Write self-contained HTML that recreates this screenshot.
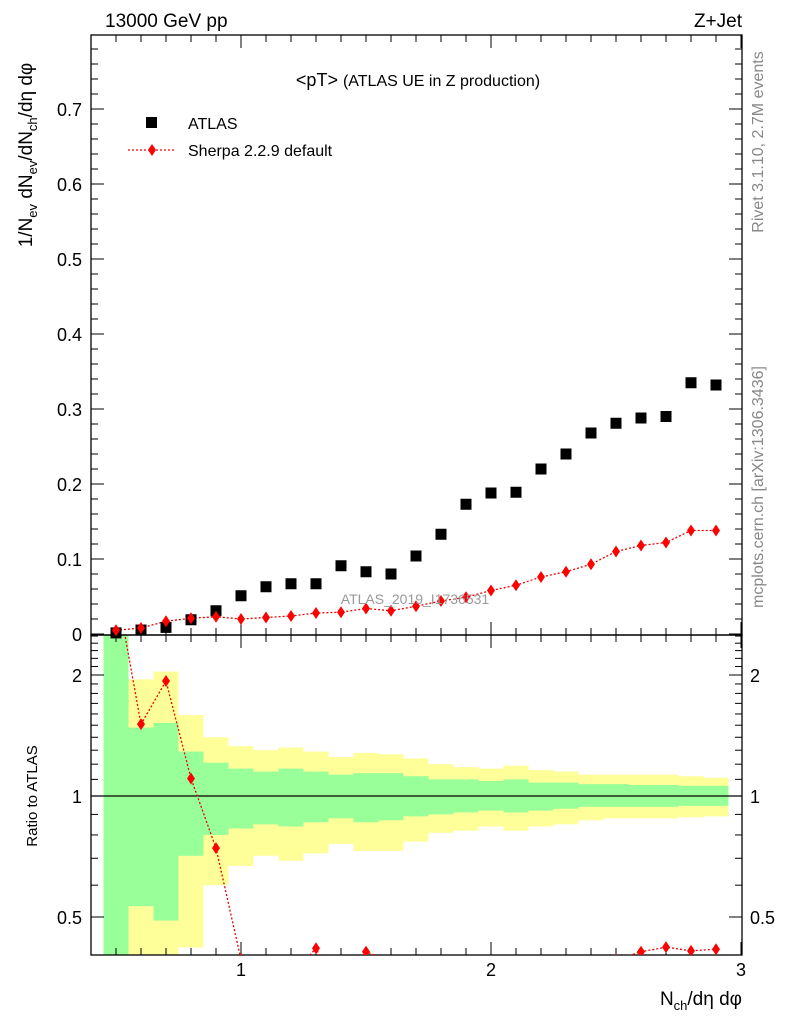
<!DOCTYPE html>
<html><head><meta charset="utf-8"><style>
body{margin:0;background:#fff}
svg{display:block;font-family:"Liberation Sans",sans-serif}
</style></head><body>
<svg id="c" width="786" height="1024" viewBox="0 0 786 1024" xmlns="http://www.w3.org/2000/svg">
<g id="bands"></g>
<g id="axes"></g>
<g id="marks"></g>
<g>
<text x="105" y="27" font-size="19">13000 GeV pp</text>
<text x="742" y="27" font-size="19" text-anchor="end">Z+Jet</text>
<text x="418" y="86" font-size="18" text-anchor="middle">&lt;pT&gt; <tspan font-size="16">(ATLAS UE in Z production)</tspan></text>
<rect x="146" y="117" width="11" height="11" fill="#000"/>
<text x="188" y="129" font-size="16">ATLAS</text>
<line x1="128" y1="150" x2="176" y2="150" stroke="#e00" stroke-width="1.3" stroke-dasharray="2,2"/>
<path d="M152,144 L156,150 L152,156 L148,150 Z" fill="#f00"/>
<text x="188" y="156" font-size="16">Sherpa 2.2.9 default</text>
<text x="415" y="604" font-size="14" fill="#999" text-anchor="middle">ATLAS_2019_I1736531</text>
<text transform="translate(763,142) rotate(-90)" font-size="16" fill="#888" text-anchor="middle">Rivet 3.1.10,  2.7M events</text>
<text transform="translate(763,487) rotate(-90)" font-size="16" fill="#888" text-anchor="middle">mcplots.cern.ch [arXiv:1306.3436]</text>
<text transform="translate(32,155) rotate(-90)" font-size="19" text-anchor="middle">1/N<tspan font-size="13" dy="5">ev</tspan><tspan dy="-5"> dN</tspan><tspan font-size="13" dy="5">ev</tspan><tspan dy="-5">/dN</tspan><tspan font-size="13" dy="5">ch</tspan><tspan dy="-5">/dη dφ</tspan></text>
<text transform="translate(37,796) rotate(-90)" font-size="15" text-anchor="middle">Ratio to ATLAS</text>
<text x="742" y="1005" font-size="19" text-anchor="end">N<tspan font-size="13" dy="5">ch</tspan><tspan dy="-5">/dη dφ</tspan></text>
</g>
</svg>
<script>
const xCenters=[0.5,0.6,0.7,0.8,0.9,1.0,1.1,1.2,1.3,1.4,1.5,1.6,1.7,1.8,1.9,2.0,2.1,2.2,2.3,2.4,2.5,2.6,2.7,2.8,2.9];
const atlasVals=[0.0015,0.0053,0.0088,0.019,0.031,0.051,0.063,0.067,0.067,0.091,0.083,0.080,0.104,0.133,0.173,0.188,0.189,0.220,0.240,0.268,0.281,0.288,0.290,0.335,0.332];
const sherpaVals=[0.005,0.008,0.017,0.021,0.023,0.020,0.022,0.024,0.028,0.029,0.034,0.031,0.037,0.044,0.049,0.058,0.065,0.076,0.083,0.093,0.110,0.118,0.122,0.138,0.138];
const yellowHi=[3,1.95,2.04,1.59,1.40,1.33,1.30,1.32,1.29,1.25,1.28,1.27,1.24,1.20,1.18,1.17,1.19,1.16,1.15,1.13,1.13,1.13,1.13,1.12,1.11];
const greenHi=[3,1.48,1.52,1.29,1.21,1.17,1.15,1.17,1.15,1.13,1.14,1.14,1.12,1.10,1.10,1.09,1.10,1.08,1.08,1.07,1.07,1.065,1.065,1.06,1.06];
const greenLo=[0.3,0.532,0.49,0.71,0.80,0.83,0.85,0.84,0.86,0.88,0.86,0.87,0.89,0.90,0.91,0.92,0.91,0.92,0.93,0.94,0.94,0.94,0.94,0.945,0.945];
const yellowLo=[0.3,0.3,0.3,0.42,0.60,0.67,0.71,0.69,0.72,0.76,0.73,0.73,0.77,0.81,0.82,0.84,0.82,0.84,0.85,0.87,0.88,0.88,0.88,0.885,0.89];
const yTicks=["0","0.1","0.2","0.3","0.4","0.5","0.6","0.7"];
const rTicks=["0.5","1","2"];
const xTicks=["1","2","3"];

const NS="http://www.w3.org/2000/svg";
const L=91,R=742,T=35,M=635,B=955;
const X=v=>L+(v-0.4)*250;
const Y=v=>634-v*750;
const RY=r=>796-121*Math.log2(r);
function mk(tag,attrs,parent){const e=document.createElementNS(NS,tag);for(const k in attrs)e.setAttribute(k,attrs[k]);document.getElementById(parent).appendChild(e);return e;}
const clampR=y=>Math.max(M,Math.min(B,y));

for(let i=0;i<xCenters.length;i++){
  const x0=X(xCenters[i]-0.05),w=25;
  const yb=mk('rect',{x:x0,y:clampR(RY(yellowHi[i])),width:w,height:clampR(RY(yellowLo[i]))-clampR(RY(yellowHi[i])),fill:'#ffff99'},'bands');
  
  
  const gb=mk('rect',{x:x0,y:clampR(RY(greenHi[i])),width:w,height:clampR(RY(greenLo[i]))-clampR(RY(greenHi[i])),fill:'#99ff99'},'bands');
  
  
}
mk('rect',{x:L,y:T,width:R-L,height:M-T,fill:'none',stroke:'#000','stroke-width':1.3},'axes');
mk('rect',{x:L,y:M,width:R-L,height:B-M,fill:'none',stroke:'#000','stroke-width':1.3},'axes');
mk('line',{x1:L,y1:RY(1),x2:R,y2:RY(1),stroke:'#000','stroke-width':1.2},'axes');
for(let v=0;v<=0.8001;v+=0.02){const y=Y(v);if(y<T)continue;const maj=Math.abs(v*10-Math.round(v*10))<1e-6;const len=maj?13:7;
  mk('line',{x1:L,y1:y,x2:L+len,y2:y,stroke:'#000'},'axes');mk('line',{x1:R,y1:y,x2:R-len,y2:y,stroke:'#000'},'axes');}
yTicks.forEach((t,i)=>{const e=mk('text',{x:82,y:Y(+t)+7,'font-size':18,'text-anchor':'end'},'axes');e.textContent=t;
  
  });
for(let r=0.4;r<=2.5001;r+=0.1){const y=RY(r);if(y<M||y>B)continue;const maj=Math.abs(r-0.5)<1e-6||Math.abs(r-1)<1e-6||Math.abs(r-2)<1e-6;const len=maj?13:7;
  mk('line',{x1:L,y1:y,x2:L+len,y2:y,stroke:'#000'},'axes');mk('line',{x1:R,y1:y,x2:R-len,y2:y,stroke:'#000'},'axes');}
rTicks.forEach(t=>{let e=mk('text',{x:82,y:RY(+t)+7,'font-size':18,'text-anchor':'end'},'axes');e.textContent=t;
  
  
  e=mk('text',{x:750,y:RY(+t)+7,'font-size':18},'axes');e.textContent=t;
  
  });
for(let k=5;k<=30;k++){const v=k/10,x=X(v);const maj=k%10==0;const len=maj?13:7;
  [[T,1],[M,-1],[M,1],[B,-1]].forEach(([y0,d])=>mk('line',{x1:x,y1:y0,x2:x,y2:y0+d*len,stroke:'#000'},'axes'));}
xTicks.forEach(t=>{const e=mk('text',{x:X(+t),y:976,'font-size':18,'text-anchor':'middle'},'axes');e.textContent=t;
  
  });

const sp=xCenters.map((x,i)=>X(x)+','+Y(sherpaVals[i])).join(' ');
const sl=mk('polyline',{points:sp,fill:'none',stroke:'#e00','stroke-width':1.3,'stroke-dasharray':'2,2'},'marks');


xCenters.forEach((x,i)=>{
  const a=mk('rect',{x:X(x)-5.5,y:Y(atlasVals[i])-5.5,width:11,height:11,fill:'#000'},'marks');
  
  
  const cx=X(x),cy=Y(sherpaVals[i]);
  const s=mk('path',{d:`M${cx},${cy-6}L${cx+4},${cy}L${cx},${cy+6}L${cx-4},${cy}Z`,fill:'#f00'},'marks');
  
  
});
const cp=mk('clipPath',{id:'rc'},'marks');
const cr=document.createElementNS(NS,'rect');cr.setAttribute('x',L);cr.setAttribute('y',M);cr.setAttribute('width',R-L);cr.setAttribute('height',B-M);cp.appendChild(cr);
const rg=mk('g',{'clip-path':'url(#rc)'},'marks');rg.id='rg';
const ratios=xCenters.map((x,i)=>sherpaVals[i]/atlasVals[i]);
const rl=mk('polyline',{points:xCenters.map((x,i)=>X(x)+','+RY(ratios[i])).join(' '),fill:'none',stroke:'#e00','stroke-width':1.3,'stroke-dasharray':'2,2'},'rg');


xCenters.forEach((x,i)=>{const cx=X(x),cy=RY(ratios[i]);if(cy<M-6||cy>B+6)return;
  const s=mk('path',{d:`M${cx},${cy-6}L${cx+4},${cy}L${cx},${cy+6}L${cx-4},${cy}Z`,fill:'#f00'},'rg');
  
  });
</script>
</body></html>
